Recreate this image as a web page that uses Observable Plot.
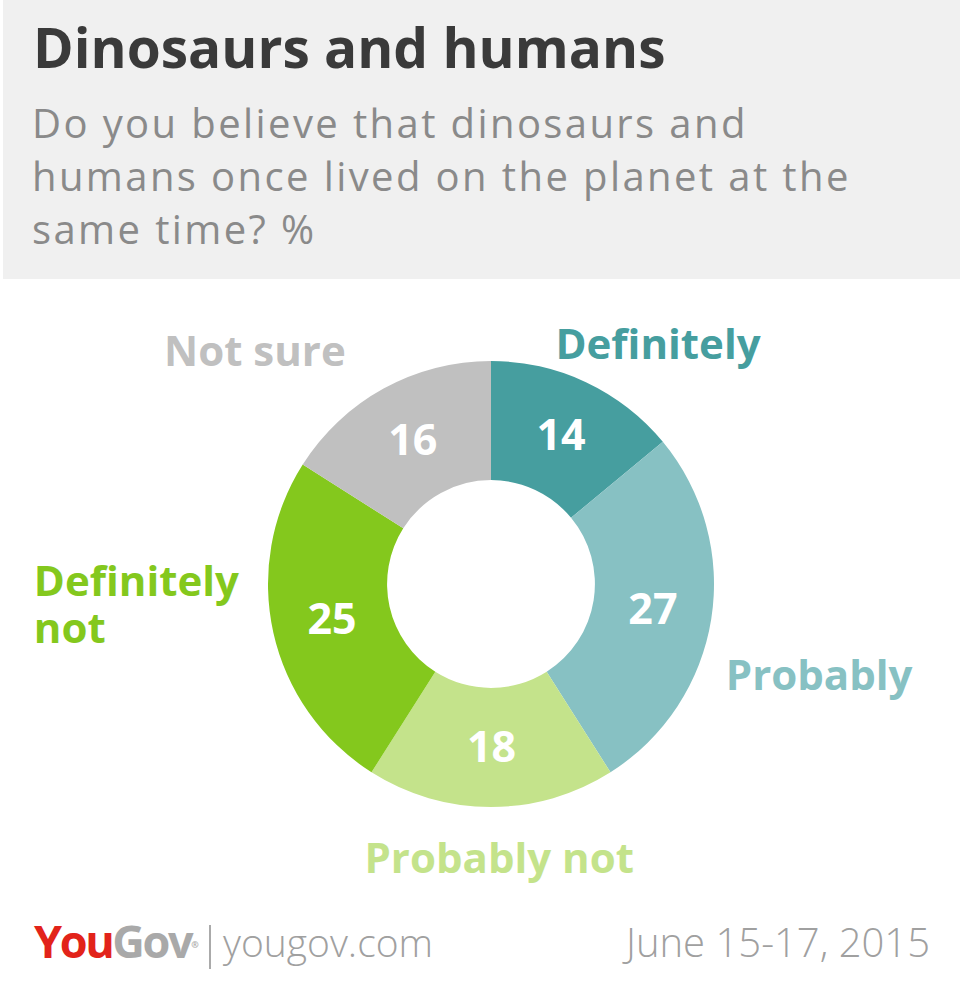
<!DOCTYPE html>
<html>
<head>
<meta charset="utf-8">
<script src="https://cdn.jsdelivr.net/npm/d3@7"></script>
<script src="https://cdn.jsdelivr.net/npm/@observablehq/plot@0.6"></script>
<style>
  html, body { margin: 0; padding: 0; background: #fff; }
  body { width: 960px; height: 992px; overflow: hidden; position: relative; font-family: "Open Sans", sans-serif; }
  #header { position: absolute; left: 3px; top: 0; width: 957px; height: 279px; background: #f0f0f0; }
  #title { position: absolute; left: 30px; top: 19px; font-size: 55px; line-height: 55px; font-weight: 700; color: #3a3a3a; white-space: nowrap; letter-spacing: 0px; }
  #subtitle { position: absolute; left: 29px; top: 96px; font-size: 40px; line-height: 53px; font-weight: 400; color: #8a8a8a; width: 920px; letter-spacing: 2.4px; white-space: nowrap; }
  #chart { position: absolute; left: 0; top: 280px; }
  #footer { position: absolute; left: 0; top: 900px; width: 960px; height: 92px; }
  #logo { position: absolute; left: 34px; top: 18px; font-size: 45px; line-height: 46px; font-weight: 700; letter-spacing: -2.4px; white-space: nowrap; }
  #logo .you { color: #e2231a; }
  #logo .gov { color: #a9a9a9; }
  #logo sup { font-size: 9px; color: #a9a9a9; vertical-align: top; position: relative; top: 4px; letter-spacing: 0; }
  #divider { position: absolute; left: 209px; top: 25px; width: 2px; height: 44px; background: #aaaaaa; }
  #site { position: absolute; left: 223px; top: 22px; font-size: 39px; line-height: 40px; font-weight: 300; color: #a0a0a0; white-space: nowrap; }
  #date { position: absolute; right: 30px; top: 22px; font-size: 40px; line-height: 40px; font-weight: 300; color: #a0a0a0; white-space: nowrap; }
</style>
</head>
<body>
<div id="header">
  <div id="title"></div>
  <div id="subtitle"></div>
</div>
<div id="chart"></div>
<div id="footer">
  <div id="logo"><span class="you">You</span><span class="gov">Gov</span><sup>®</sup></div>
  <div id="divider"></div>
  <div id="site"></div>
  <div id="date"></div>
</div>
<script>
// ---- data ----
const titleText = "Dinosaurs and humans";
const subtitleLines = ["Do you believe that dinosaurs and", "humans once lived on the planet at the", "same time? %"];
const siteText = "yougov.com";
const dateText = "June 15-17, 2015";

const categories = ["Definitely", "Probably", "Probably not", "Definitely not", "Not sure"];
const values = [14, 27, 18, 25, 16];
const labelLines = ["Definitely", "Probably", "Probably not", "Definitely\nnot", "Not sure"];
const colors = ["#469e9f", "#87c1c3", "#c4e38b", "#84c81d", "#c0c0c0"];

// ---- text ----
document.getElementById("title").textContent = titleText;
const sub = document.getElementById("subtitle");
subtitleLines.forEach((t, i) => {
  if (i) sub.appendChild(document.createElement("br"));
  sub.appendChild(document.createTextNode(t));
});
document.getElementById("site").textContent = siteText;
document.getElementById("date").textContent = dateText;

// ---- layout ----
const innerRatio = 0.466;
const labelNudge = {
  "Definitely": [-31, -24],
  "Probably": [14, 71],
  "Probably not": [-127, 65],
  "Definitely not": [-240, 10],
  "Not sure": [-220, -23]
};

const pie = d3.pie().sort(null).value(d => d.value).startAngle(0).endAngle(2 * Math.PI);
const table = categories.map((c, i) => ({category: c, value: values[i], label: labelLines[i]}));
const arcs = pie(table).map(a => {
  const mid = (a.startAngle + a.endAngle) / 2;
  return {...a.data, startAngle: a.startAngle, endAngle: a.endAngle, mid};
});
const rMid = (1 + innerRatio) / 2;

function donutMark(index, scales, values, dimensions, context) {
  const cx = scales.x(0), cy = scales.y(0);
  const R = scales.x(1) - cx;
  const arcGen = d3.arc().innerRadius(R * innerRatio).outerRadius(R);
  const g = d3.create("svg:g").attr("transform", `translate(${cx},${cy})`);
  g.selectAll("path")
    .data(arcs)
    .join("path")
    .attr("d", d => arcGen({startAngle: d.startAngle, endAngle: d.endAngle}))
    .attr("fill", d => scales.color(d.category));
  return g.node();
}

const outsideLabels = arcs.map(d => Plot.text([d], {
  x: v => Math.sin(v.mid),
  y: v => Math.cos(v.mid),
  text: "label",
  fill: "category",
  textAnchor: "start",
  lineAnchor: "bottom",
  lineHeight: 1.12,
  fontSize: 42,
  fontWeight: 700,
  dx: labelNudge[d.category][0],
  dy: labelNudge[d.category][1]
}));

const chart = Plot.plot({
  width: 960,
  height: 620,
  margin: 0,
  style: {fontFamily: "Open Sans", background: "transparent", overflow: "visible"},
  x: {domain: [-1, 1], range: [268, 714], axis: null},
  y: {domain: [-1, 1], range: [527, 81], axis: null},
  color: {domain: categories, range: colors},
  marks: [
    donutMark,
    Plot.text(arcs, {
      x: d => rMid * Math.sin(d.mid),
      y: d => rMid * Math.cos(d.mid),
      text: d => String(d.value),
      fill: "white",
      fontSize: 43,
      fontWeight: 700
    }),
    ...outsideLabels
  ]
});
document.getElementById("chart").appendChild(chart);
</script>
</body>
</html>
